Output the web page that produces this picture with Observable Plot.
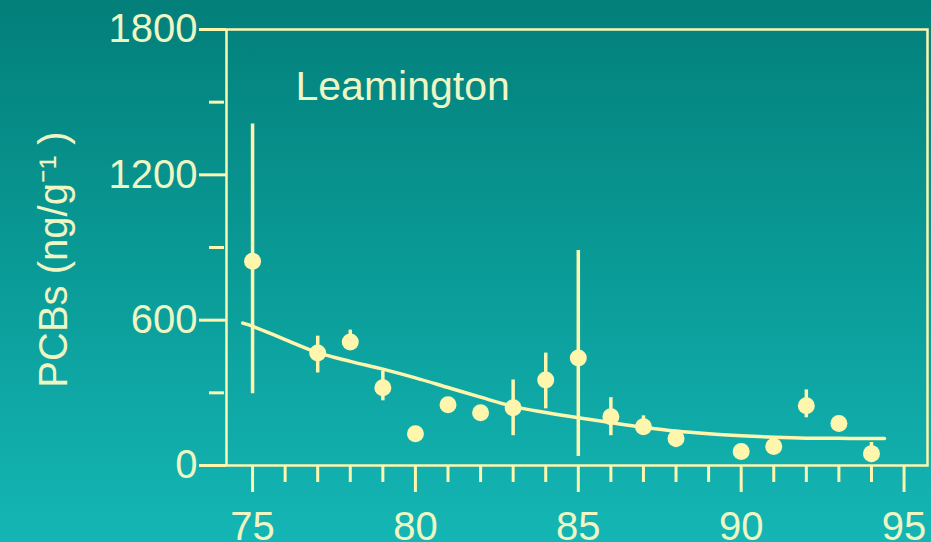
<!DOCTYPE html>
<html>
<head>
<meta charset="utf-8">
<script src="https://cdn.jsdelivr.net/npm/d3@7"></script>
<script src="https://cdn.jsdelivr.net/npm/@observablehq/plot@0.6"></script>
<style>
  html, body { margin: 0; padding: 0; }
  body {
    width: 931px; height: 542px; overflow: hidden;
    background: linear-gradient(to bottom, #037f7a 0%, #0a9b97 50%, #14b6b5 100%);
  }
  #chart svg { display: block; background: transparent; }
</style>
</head>
<body>
<div id="chart"></div>
<script>
// ---- data ----
const years   = [75, 77, 78, 79, 80, 81, 82, 83, 84, 85, 86, 87, 88, 90, 91, 92, 93, 94];
const pcb     = [843, 464, 510, 321, 131, 251, 218, 238, 353, 444, 201, 160, 111, 58, 78, 247, 173, 49];
const errLow  = [296, 382, 490, 267, null, null, null, 123, 234, 37, 123, 131, 74, null, null, 197, null, 12];
const errHigh = [1410, 534, 559, 390, null, null, null, 353, 464, 888, 280, 205, 144, null, null, 312, null, 95];

const fitYears  = [74.7, 75, 76, 77, 78, 79, 80, 81, 82, 83, 84, 85, 86, 87, 88, 89, 90, 91, 92, 93, 94, 94.4];
const fitValues = [588, 575, 520, 466, 430, 398, 362, 322, 282, 244, 219, 197, 177, 158, 142, 131, 123, 117, 113, 112, 111, 111];

const majorXTicks = [75, 80, 85, 90, 95];
const minorXTicks = [76, 77, 78, 79, 81, 82, 83, 84, 86, 87, 88, 89, 91, 92, 93, 94];
const majorYTicks = [0, 600, 1200, 1800];
const minorYTicks = [300, 900, 1500];

const siteLabel = "Leamington";
const yLabel = "PCBs (ng/g\u207B\u00B9 )";

// ---- build ----
const points = years.map((y, i) => ({year: y, value: pcb[i], lo: errLow[i], hi: errHigh[i]}));
const bars = points.filter(d => d.lo != null && d.hi != null);
const fit = fitYears.map((y, i) => ({year: y, value: fitValues[i]}));

const fg = "#fff6ae";
const txt = "#eef6c4";
const font = "'Liberation Sans', Arial, Helvetica, sans-serif";

const chart = Plot.plot({
  width: 931,
  height: 542,
  marginLeft: 226,
  marginRight: 4,
  marginTop: 29,
  marginBottom: 77,
  style: {fontFamily: font, fontSize: "40px", background: "transparent", color: txt},
  x: {domain: [74.2, 95.72]},
  y: {domain: [0, 1800]},
  marks: [
    Plot.axisX(minorXTicks, {tickSize: 17, tickFormat: () => "", stroke: fg, strokeWidth: 3, label: null}),
    Plot.axisX(majorXTicks, {tickSize: 27, tickPadding: 19, tickFormat: d => String(d), stroke: fg, strokeWidth: 3, fill: txt, fontSize: 40, fontFamily: font, label: null}),
    Plot.axisY(minorYTicks, {tickSize: 15, dx: -2, tickFormat: () => "", stroke: fg, strokeWidth: 3, label: null}),
    Plot.axisY(majorYTicks, {tickSize: 27, tickPadding: 2, tickFormat: d => String(d), stroke: fg, strokeWidth: 3, fill: txt, fontSize: 40, fontFamily: font, label: null}),
    Plot.frame({stroke: fg, strokeWidth: 2.5}),
    Plot.ruleX(bars, {x: "year", y1: "lo", y2: "hi", stroke: fg, strokeWidth: 3.5}),
    Plot.line(fit, {x: "year", y: "value", stroke: fg, strokeWidth: 3.5, curve: "catmull-rom"}),
    Plot.dot(points, {x: "year", y: "value", r: 8.5, fill: fg, stroke: "none"}),
    Plot.text([siteLabel], {frameAnchor: "top-left", dx: 69, dy: 41, text: d => d, textAnchor: "start", lineAnchor: "top", fontSize: 41, fontFamily: font, fill: txt, letterSpacing: "0.5px"}),
    Plot.text([yLabel], {frameAnchor: "left", dx: -160, dy: 12, text: d => d, rotate: -90, textAnchor: "middle", lineAnchor: "bottom", fontSize: 40, fontFamily: font, fill: txt})
  ]
});
document.getElementById("chart").appendChild(chart);
</script>
</body>
</html>
